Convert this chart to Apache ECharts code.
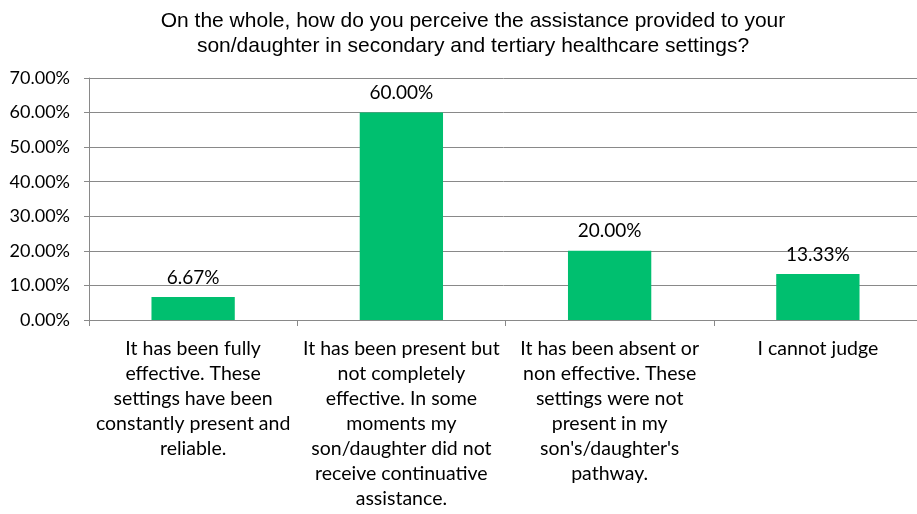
<!DOCTYPE html>
<html>
<head>
<meta charset="utf-8">
<script src="https://cdn.jsdelivr.net/npm/echarts@6/dist/echarts.min.js"></script>
<style>
  html, body { margin: 0; padding: 0; background: #fff; }
  #chart { width: 917px; height: 514px; }
</style>
</head>
<body>
<div id="chart"></div>
<script>
// Survey answers (line breaks as they wrap under each bar)
const categories = [
  'It has been fully\neffective. These\nsettings have been\nconstantly present and\nreliable.',
  'It has been present but\nnot completely\neffective. In some\nmoments my\nson/daughter did not\nreceive continuative\nassistance.',
  'It has been absent or\nnon effective. These\nsettings were not\npresent in my\nson\'s/daughter\'s\npathway.',
  'I cannot judge'
];
// Share of respondents, in percent
const shares = [6.67, 60.00, 20.00, 13.33];
const yTicks = { min: 0, max: 70, step: 10 };

const titleText = 'On the whole, how do you perceive the assistance provided to your\nson/daughter in secondary and tertiary healthcare settings?';

const chart = echarts.init(document.getElementById('chart'), null, { renderer: 'canvas' });
const labelFont = 'Lato, "Open Sans", sans-serif';
const gridColor = '#898989';

chart.setOption({
  animation: false,
  backgroundColor: '#ffffff',
  title: {
    text: titleText,
    left: 468,
    textAlign: 'center',
    top: 4,
    textStyle: {
      fontFamily: '"Liberation Sans", Arial, sans-serif',
      fontSize: 21,
      fontWeight: 'normal',
      color: '#000',
      lineHeight: 25
    }
  },
  // plot area runs slightly past the right edge of the canvas
  grid: { left: 89, right: -5, top: 78, bottom: 194, containLabel: false, outerBoundsMode: 'none' },
  xAxis: {
    type: 'category',
    data: categories,
    axisLine: { show: true, lineStyle: { color: gridColor, width: 1 } },
    axisTick: { show: true, length: 6, lineStyle: { color: gridColor } },
    axisLabel: {
      interval: 0,
      margin: 16,
      fontFamily: labelFont,
      fontSize: 19.5,
      lineHeight: 25,
      color: '#000',
      align: 'center',
      verticalAlign: 'top'
    }
  },
  yAxis: {
    type: 'value',
    min: yTicks.min,
    max: yTicks.max,
    interval: yTicks.step,
    axisLine: { show: true, lineStyle: { color: gridColor, width: 1 } },
    axisTick: { show: true, length: 5, lineStyle: { color: gridColor } },
    splitLine: { show: true, lineStyle: { color: gridColor, width: 1 } },
    axisLabel: {
      margin: 19,
      fontFamily: labelFont,
      fontSize: 18,
      color: '#000',
      formatter: v => v.toFixed(2) + '%'
    }
  },
  series: [{
    type: 'bar',
    data: shares,
    barWidth: '40%',
    itemStyle: { color: '#00BF6F' },
    label: {
      show: true,
      position: 'top',
      distance: 10,
      fontFamily: labelFont,
      fontSize: 19,
      color: '#000',
      formatter: p => p.value.toFixed(2) + '%'
    }
  }]
});
</script>
</body>
</html>
